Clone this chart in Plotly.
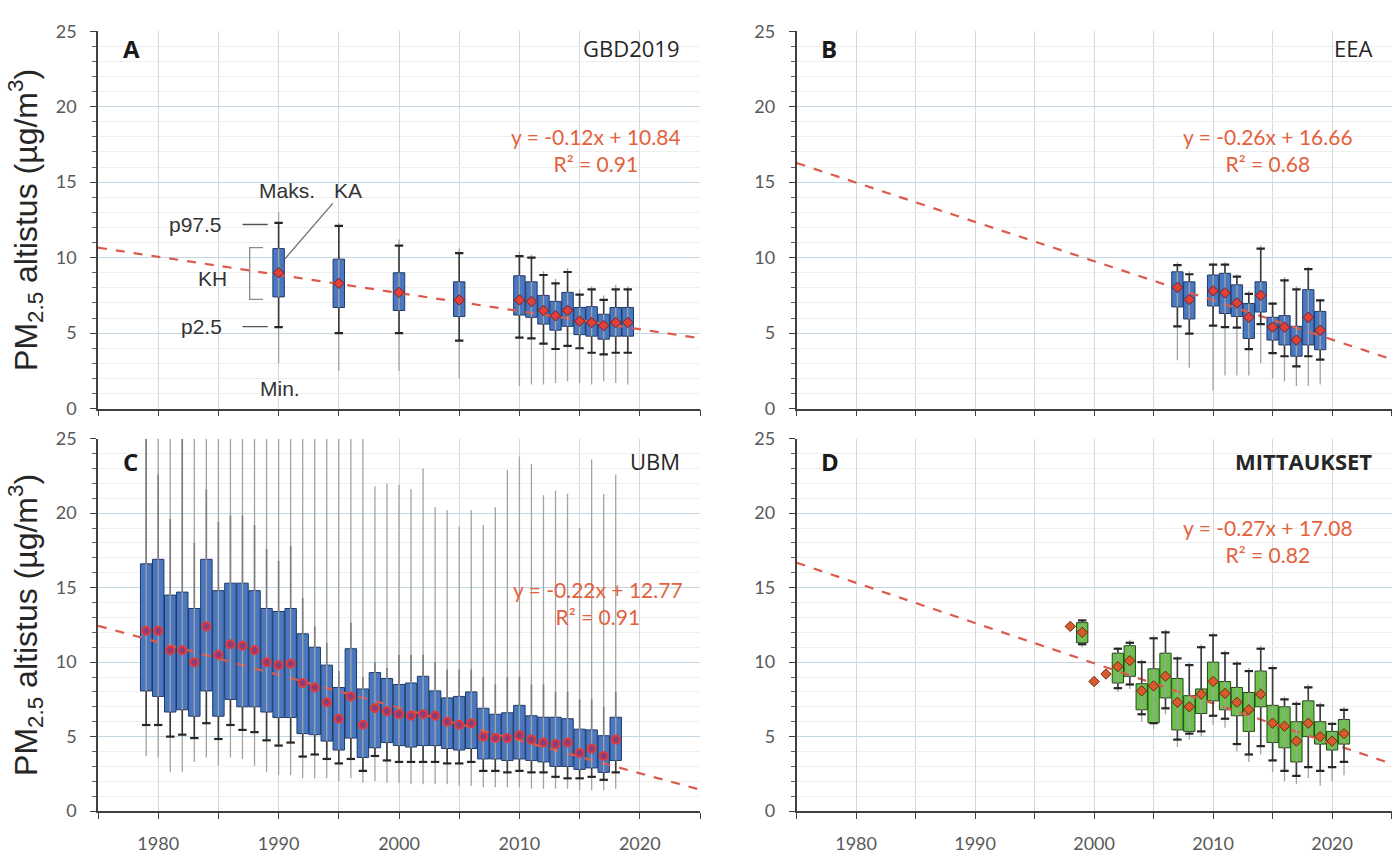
import plotly.graph_objects as go

# ---------------- data ----------------
X_RANGE = [1975, 2025]
Y_RANGE = [0, 25]
TREND_X0 = 1973.5  # origin of the trend-line x index

# A: GBD2019
A_years = [1990, 1995, 2000, 2005, 2010, 2011, 2012, 2013, 2014, 2015, 2016, 2017, 2018, 2019]
A_min  = [3.0, 2.5, 2.5, 2.0, 1.5, 1.6, 1.6, 1.7, 1.8, 1.7, 1.6, 1.8, 1.7, 1.6]
A_p2_5 = [5.4, 5.0, 5.0, 4.5, 4.7, 4.65, 4.3, 3.95, 4.15, 4.0, 3.7, 3.6, 3.7, 3.7]
A_lo   = [7.4, 6.7, 6.5, 6.1, 6.2, 6.05, 5.6, 5.2, 5.45, 4.9, 4.8, 4.6, 4.8, 4.8]
A_mean = [9.0, 8.3, 7.7, 7.2, 7.2, 7.1, 6.5, 6.15, 6.5, 5.8, 5.7, 5.5, 5.7, 5.7]
A_hi   = [10.6, 9.9, 9.0, 8.4, 8.8, 8.4, 7.5, 7.1, 7.7, 6.7, 6.75, 6.25, 6.7, 6.7]
A_p97  = [12.3, 12.1, 10.8, 10.3, 10.1, 10.0, 8.85, 8.3, 9.05, 7.55, 7.9, 7.2, 7.9, 7.9]
A_max  = [13.0, 12.3, 11.2, 10.6, 10.4, 10.2, 9.1, 8.6, 9.3, 7.9, 8.1, 7.5, 8.2, 8.1]
A_trend = (-0.12, 10.84)
A_r2 = "0.91"

# B: EEA
B_years = [2007, 2008, 2010, 2011, 2012, 2013, 2014, 2015, 2016, 2017, 2018, 2019]
B_min  = [3.2, 2.7, 1.2, 2.2, 2.2, 2.2, 3.0, 2.0, 1.8, 1.5, 1.5, 1.6]
B_p2_5 = [5.45, 4.97, 5.5, 5.4, 5.36, 3.94, 5.6, 3.68, 3.47, 2.8, 3.47, 3.25]
B_lo   = [6.74, 5.94, 6.8, 6.3, 6.1, 4.65, 6.4, 4.54, 4.22, 3.47, 4.22, 3.9]
B_mean = [8.03, 7.23, 7.8, 7.67, 7.0, 6.05, 7.5, 5.4, 5.4, 4.54, 6.05, 5.19]
B_hi   = [9.06, 8.4, 8.85, 8.96, 8.2, 6.96, 8.4, 6.05, 6.16, 5.45, 7.88, 6.44]
B_p97  = [9.5, 8.9, 9.54, 9.54, 8.74, 7.6, 10.6, 6.96, 8.5, 7.9, 9.24, 7.17]
B_max  = [9.7, 9.1, 9.7, 9.7, 8.9, 7.8, 10.8, 7.1, 8.7, 8.1, 9.4, 7.3]
B_trend = (-0.26, 16.66)
B_r2 = "0.68"

# C: UBM
C_years = list(range(1979, 2019))
C_min  = [3.7, 3.6, 2.6, 2.6, 3.3, 3.6, 3.05, 3.6, 3.5, 3.05, 2.6, 2.4, 2.4, 2.2, 2.2, 2.2, 2.0, 2.2, 1.9, 2.0,
          1.9, 1.9, 1.8, 1.8, 1.8, 1.8, 1.7, 1.7, 1.6, 1.6, 1.6, 1.6, 1.5, 1.5, 1.5, 1.5, 1.4, 1.4, 1.4, 1.5]
C_p2_5 = [5.78, 5.78, 5.0, 5.13, 4.9, 5.9, 4.84, 5.78, 5.45, 5.3, 4.75, 4.4, 4.6, 3.66, 3.8, 3.5, 3.2, 3.5, 2.7, 3.7,
          3.4, 3.3, 3.3, 3.3, 3.3, 3.2, 3.2, 3.3, 2.7, 2.7, 2.6, 2.7, 2.6, 2.6, 2.3, 2.2, 2.2, 2.3, 2.1, 2.6]
C_lo   = [8.07, 7.7, 6.65, 6.8, 6.37, 8.07, 6.37, 7.5, 7.0, 7.0, 6.65, 6.28, 6.28, 5.2, 5.13, 4.7, 4.1, 4.9, 3.6, 4.25,
          4.6, 4.4, 4.3, 4.4, 4.4, 4.2, 4.1, 4.2, 3.5, 3.5, 3.4, 3.5, 3.4, 3.3, 3.0, 3.0, 2.8, 2.9, 2.6, 3.4]
C_mean = [12.1, 12.1, 10.8, 10.8, 10.0, 12.4, 10.5, 11.2, 11.1, 10.8, 10.0, 9.8, 9.9, 8.6, 8.3, 7.3, 6.2, 7.7, 5.8, 6.9,
          6.7, 6.5, 6.4, 6.5, 6.4, 6.0, 5.8, 5.9, 5.0, 4.9, 4.9, 5.1, 4.8, 4.6, 4.5, 4.6, 3.9, 4.2, 3.7, 4.8]
C_hi   = [16.6, 16.9, 14.5, 14.7, 13.6, 16.9, 14.8, 15.3, 15.3, 14.8, 13.6, 13.4, 13.6, 11.9, 11.0, 9.8, 8.3, 10.9, 8.2, 9.3,
          8.9, 8.5, 8.6, 9.05, 8.07, 7.6, 7.7, 8.0, 6.9, 6.5, 6.6, 7.1, 6.4, 6.3, 6.3, 6.2, 5.5, 5.45, 5.06, 6.3]
C_p97  = [25.0, 22.6, 19.6, 25.0, 18.0, 21.6, 19.4, 19.85, 19.85, 19.2, 17.6, 16.8, 17.8, 14.3, 12.4, 11.3, 9.4, 12.65, 9.0, 10.0,
          9.6, 10.5, 10.5, 10.5, 10.0, 9.5, 9.5, 9.5, 9.0, 8.5, 9.0, 9.0, 8.5, 8.5, 8.0, 8.0, 7.5, 7.5, 7.0, 8.0]
C_max  = [25.0] * 19 + [21.8, 22.0, 21.9, 21.6, 23.0, 20.4, 20.2, 19.1, 20.2, 19.2, 20.4, 22.9, 23.8, 23.3, 21.2,
                        21.5, 21.3, 19.0, 23.6, 21.3, 22.6]
C_trend = (-0.22, 12.77)
C_r2 = "0.91"

# D: MITTAUKSET
D_years = [1998, 1999, 2000, 2001] + list(range(2002, 2022))
D_min  = [None, 11.0, None, None, 8.0, 8.2, 6.0, 5.5, 6.5, 4.3, 4.8, 5.0, 5.8, 5.6, 4.0, 3.3, 3.8, 2.6, 2.0, 1.8, 2.2, 1.7, 2.0, 2.4]
D_p2_5 = [None, 11.2, None, None, 8.25, 8.5, 6.5, 5.9, 6.9, 4.8, 5.2, 5.35, 6.4, 6.2, 4.5, 3.8, 4.36, 3.4, 2.7, 2.36, 2.95, 2.7, 2.95, 3.3]
D_lo   = [None, 11.3, None, None, 8.6, 9.05, 6.8, 5.93, 7.6, 5.45, 5.35, 6.55, 7.4, 6.8, 6.4, 5.35, 7.0, 4.6, 4.25, 3.3, 5.0, 4.5, 4.1, 4.5]
D_mean = [12.4, 12.0, 8.7, 9.2, 9.7, 10.1, 8.07, 8.4, 9.05, 7.3, 7.0, 7.85, 8.7, 7.9, 7.3, 6.8, 7.85, 5.9, 5.7, 4.7, 5.9, 5.0, 4.7, 5.2]
D_hi   = [None, 12.65, None, None, 10.6, 11.1, 8.55, 9.55, 10.6, 8.9, 7.75, 8.2, 10.0, 8.7, 8.3, 7.96, 9.4, 7.1, 7.0, 6.0, 7.4, 6.0, 5.35, 6.15]
D_p97  = [None, 12.8, None, None, 10.9, 11.3, 10.0, 11.6, 12.0, 10.25, 9.8, 11.0, 11.8, 10.6, 9.9, 9.4, 10.9, 9.6, 7.5, 7.2, 8.3, 7.1, 5.85, 6.8]
D_max  = [None, 12.9, None, None, 11.0, 11.5, 10.2, 11.8, 12.2, 10.4, 10.0, 11.2, 12.0, 10.8, 10.1, 9.6, 11.1, 9.8, 7.7, 7.4, 8.5, 7.3, 6.0, 7.0]
D_trend = (-0.27, 17.08)
D_r2 = "0.82"

panel_letters = ["A", "B", "C", "D"]
panel_titles = ["GBD2019", "EEA", "UBM", "<b>MITTAUKSET</b>"]
y_title = "PM<sub>2.5</sub> altistus (µg/m<sup>3</sup>)"

# ---------------- styles ----------------
BLUE_FILL, BLUE_EDGE = "#4a78c0", "#1f3a68"
GREEN_FILL, GREEN_EDGE = "#6cc04c", "#24481a"
TREND_COLOR = "#dc5a4c"
EQ_COLOR = "#e5613d"
TXT = "#262626"
TICK_FONT = dict(family="Lato, 'Open Sans', sans-serif", size=18, color="#595959")

panels = [
    dict(xa="x", ya="y", years=A_years, mn=A_min, p2=A_p2_5, lo=A_lo, mean=A_mean, hi=A_hi, p97=A_p97, mx=A_max,
         trend=A_trend, r2=A_r2, fill=BLUE_FILL, edge=BLUE_EDGE, eq=(2016.4, 17.1), upper="#3c3c3c",
         top_caps=True, label_y=0.955),
    dict(xa="x2", ya="y2", years=B_years, mn=B_min, p2=B_p2_5, lo=B_lo, mean=B_mean, hi=B_hi, p97=B_p97, mx=B_max,
         trend=B_trend, r2=B_r2, fill=BLUE_FILL, edge=BLUE_EDGE, eq=(2014.6, 17.1), upper="#3c3c3c",
         top_caps=True, label_y=0.955),
    dict(xa="x3", ya="y3", years=C_years, mn=C_min, p2=C_p2_5, lo=C_lo, mean=C_mean, hi=C_hi, p97=C_p97, mx=C_max,
         trend=C_trend, r2=C_r2, fill=BLUE_FILL, edge=BLUE_EDGE, eq=(2016.5, 14.0), upper="#7d7d7d",
         top_caps=False, label_y=0.94),
    dict(xa="x4", ya="y4", years=D_years, mn=D_min, p2=D_p2_5, lo=D_lo, mean=D_mean, hi=D_hi, p97=D_p97, mx=D_max,
         trend=D_trend, r2=D_r2, fill=GREEN_FILL, edge=GREEN_EDGE, eq=(2014.6, 18.1), upper="#3c3c3c",
         top_caps=True, label_y=0.94),
]


def segs(years, a, b):
    xs, ys = [], []
    for x, u, v in zip(years, a, b):
        if u is None or v is None:
            continue
        xs += [x, x, None]
        ys += [u, v, None]
    return xs, ys


def pts(years, vals):
    xs, ys = [], []
    for x, v in zip(years, vals):
        if v is not None:
            xs.append(x)
            ys.append(v)
    return xs, ys


fig = go.Figure()

for p in panels:
    ax = dict(xaxis=p["xa"], yaxis=p["ya"])
    # trend line (behind)
    slope, icpt = p["trend"]
    tx = list(X_RANGE)
    ty = [slope * (x - TREND_X0) + icpt for x in tx]
    fig.add_trace(go.Scatter(x=tx, y=ty, mode="lines", line=dict(color=TREND_COLOR, width=2.2, dash="dash"),
                             hoverinfo="skip", **ax))
    # min-max thin line
    xs, ys = segs(p["years"], p["mn"], p["mx"])
    fig.add_trace(go.Scatter(x=xs, y=ys, mode="lines", line=dict(color="#a3a3a3", width=1.3),
                             hoverinfo="skip", **ax))
    # lower whisker p2.5 -> box bottom
    xs, ys = segs(p["years"], p["p2"], p["lo"])
    fig.add_trace(go.Scatter(x=xs, y=ys, mode="lines", line=dict(color="#3c3c3c", width=1.6),
                             hoverinfo="skip", **ax))
    # upper whisker box top -> p97.5
    xs, ys = segs(p["years"], p["hi"], p["p97"])
    fig.add_trace(go.Scatter(x=xs, y=ys, mode="lines", line=dict(color=p["upper"], width=1.6),
                             hoverinfo="skip", **ax))
    # caps
    if p["top_caps"]:
        cx, cy = pts(p["years"] + p["years"], p["p2"] + p["p97"])
    else:
        cx, cy = pts(p["years"], p["p2"])
    fig.add_trace(go.Scatter(x=cx, y=cy, mode="markers",
                             marker=dict(symbol="line-ew", size=6, line=dict(color="#262626", width=2.2)),
                             hoverinfo="skip", **ax))
    # boxes (mean +- SD)
    bx, by, bb = [], [], []
    for x, lo, hi in zip(p["years"], p["lo"], p["hi"]):
        if lo is None or hi is None:
            continue
        bx.append(x)
        by.append(hi - lo)
        bb.append(lo)
    fig.add_trace(go.Bar(x=bx, y=by, base=bb, width=0.95,
                         marker=dict(color=p["fill"], line=dict(color=p["edge"], width=1)),
                         hoverinfo="skip", **ax))
    # means
    mx_, my_ = pts(p["years"], p["mean"])
    if p["fill"] == GREEN_FILL:
        mk = dict(symbol="diamond", size=8, color="#d95a2b", line=dict(color="#6b2a10", width=1))
    elif p["xa"] == "x3":
        mk = dict(symbol="circle", size=8, color="#8a3f7a", line=dict(color="#e23a3a", width=2))
    else:
        mk = dict(symbol="diamond", size=8, color="#e2403a", line=dict(color="#7a1d1d", width=1))
    fig.add_trace(go.Scatter(x=mx_, y=my_, mode="markers", marker=mk, hoverinfo="skip", **ax))

# ---------------- axes ----------------
x_dom_left, x_dom_right = [0.070, 0.500], [0.569, 0.994]
y_dom_top, y_dom_bot = [0.525, 0.977], [0.043, 0.489]


def xaxis(domain, anchor, labels):
    return dict(domain=domain, anchor=anchor, range=X_RANGE, tick0=1980, dtick=10,
                showticklabels=labels, tickfont=TICK_FONT, ticks="outside", ticklen=6, tickwidth=1.2,
                ticklabelstandoff=10,
                tickcolor="#404040", showline=True, linecolor="#404040", linewidth=1.5,
                showgrid=True, gridcolor="#d9d9d9", gridwidth=1, zeroline=False,
                minor=dict(tick0=1975, dtick=5, ticks="outside", ticklen=6, tickcolor="#404040",
                           showgrid=True, gridcolor="#d9d9d9"))


def yaxis(domain, anchor):
    return dict(domain=domain, anchor=anchor, range=Y_RANGE, tick0=0, dtick=5, tickfont=TICK_FONT,
                ticks="outside", ticklen=6, tickwidth=1.2, tickcolor="#404040", ticklabelstandoff=10,
                showline=True, linecolor="#404040", linewidth=1.5,
                showgrid=True, gridcolor="#c4d6e2", gridwidth=1, zeroline=False,
                minor=dict(dtick=1, ticks="outside", ticklen=4, tickcolor="#606060",
                           showgrid=True, gridcolor="#efefef"))


fig.update_layout(
    width=1400, height=857, margin=dict(l=0, r=0, t=0, b=0),
    paper_bgcolor="white", plot_bgcolor="white", showlegend=False, barmode="overlay",
    xaxis=xaxis(x_dom_left, "y", False), yaxis=yaxis(y_dom_top, "x"),
    xaxis2=xaxis(x_dom_right, "y2", False), yaxis2=yaxis(y_dom_top, "x2"),
    xaxis3=xaxis(x_dom_left, "y3", True), yaxis3=yaxis(y_dom_bot, "x3"),
    xaxis4=xaxis(x_dom_right, "y4", True), yaxis4=yaxis(y_dom_bot, "x4"),
    font=dict(family="Lato, 'Open Sans', sans-serif", color=TXT),
)

# ---------------- text ----------------
ann = []
suffixes = ["", "2", "3", "4"]
for i, p in enumerate(panels):
    s = suffixes[i]
    ann.append(dict(xref=f"x{s} domain", yref=f"y{s} domain", x=0.038, y=p["label_y"], xanchor="left",
                    yanchor="middle", text=f"<b>{panel_letters[i]}</b>", showarrow=False,
                    font=dict(size=24, color="#1a1a1a", family="'Open Sans', sans-serif")))
    ann.append(dict(xref=f"x{s} domain", yref=f"y{s} domain", x=0.97, y=p["label_y"], xanchor="right",
                    yanchor="middle", text=panel_titles[i], showarrow=False,
                    font=dict(size=22, color=TXT, family="'Open Sans', sans-serif")))
    slope, icpt = p["trend"]
    eq = f"y = {slope:.2f}x + {icpt:.2f}<br>R² = {p['r2']}"
    ann.append(dict(xref=f"x{s}", yref=f"y{s}", x=p["eq"][0], y=p["eq"][1], xanchor="center", yanchor="middle",
                    text=eq, showarrow=False, align="center",
                    font=dict(size=21, color=EQ_COLOR, family="Lato, 'Open Sans', sans-serif")))

for yc in [(y_dom_top[0] + y_dom_top[1]) / 2, (y_dom_bot[0] + y_dom_bot[1]) / 2]:
    ann.append(dict(xref="paper", yref="paper", x=0.0186, y=yc, xanchor="center", yanchor="middle",
                    text=y_title, textangle=-90, showarrow=False,
                    font=dict(size=32, color=TXT, family="'Liberation Sans', Arial, sans-serif")))

LEG_FONT = dict(size=21, color="#333333", family="'Liberation Sans', Arial, sans-serif")
ann += [
    dict(xref="x", yref="y", x=1990.7, y=14.45, text="Maks.", showarrow=False, font=LEG_FONT),
    dict(xref="x", yref="y", x=1995.8, y=14.45, text="KA", showarrow=False, font=LEG_FONT),
    dict(xref="x", yref="y", x=1985.5, y=12.2, text="p97.5", xanchor="right", showarrow=False, font=LEG_FONT),
    dict(xref="x", yref="y", x=1985.5, y=5.43, text="p2.5", xanchor="right", showarrow=False, font=LEG_FONT),
    dict(xref="x", yref="y", x=1984.5, y=8.65, text="KH", showarrow=False, font=LEG_FONT),
    dict(xref="x", yref="y", x=1990.1, y=1.3, text="Min.", showarrow=False, font=LEG_FONT),
]
fig.update_layout(annotations=ann)

LEG_LINE = dict(color="#555555", width=1.4)
fig.update_layout(shapes=[
    dict(type="line", xref="x", yref="y", x0=1987.0, x1=1989.1, y0=12.2, y1=12.2, line=LEG_LINE),
    dict(type="line", xref="x", yref="y", x0=1987.0, x1=1989.1, y0=5.43, y1=5.43, line=LEG_LINE),
    dict(type="line", xref="x", yref="y", x0=1994.5, x1=1990.5, y0=13.6, y1=9.9, line=dict(color="#666666", width=1.2)),
    dict(type="path", xref="x", yref="y", path="M 1988.7 10.66 L 1987.6 10.66 L 1987.6 7.24 L 1988.7 7.24",
         line=dict(color="#8a8a8a", width=1.3)),
])

fig.write_html("out.html", config={"displayModeBar": False},
               post_script="document.body.style.margin='0px';")
